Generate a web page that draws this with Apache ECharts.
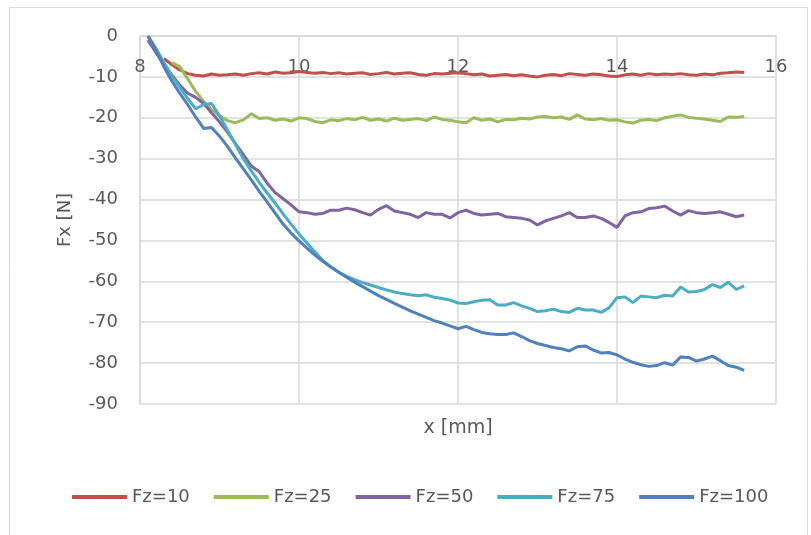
<!DOCTYPE html>
<html>
<head>
<meta charset="utf-8">
<script src="https://cdn.jsdelivr.net/npm/echarts@6/dist/echarts.min.js"></script>
<style>
  html, body { margin: 0; padding: 0; background: #fff; }
  #chart { width: 811px; height: 535px; }
</style>
</head>
<body>
<div id="chart"></div>
<script>
// x positions [mm], one every 0.1 mm
const xPos = [
  8.1, 8.2, 8.3, 8.4, 8.5, 8.6, 8.7, 8.8, 8.9,
  9.0, 9.1, 9.2, 9.3, 9.4, 9.5, 9.6, 9.7, 9.8, 9.9,
  10.0, 10.1, 10.2, 10.3, 10.4, 10.5, 10.6, 10.7, 10.8, 10.9,
  11.0, 11.1, 11.2, 11.3, 11.4, 11.5, 11.6, 11.7, 11.8, 11.9,
  12.0, 12.1, 12.2, 12.3, 12.4, 12.5, 12.6, 12.7, 12.8, 12.9,
  13.0, 13.1, 13.2, 13.3, 13.4, 13.5, 13.6, 13.7, 13.8, 13.9,
  14.0, 14.1, 14.2, 14.3, 14.4, 14.5, 14.6, 14.7, 14.8, 14.9,
  15.0, 15.1, 15.2, 15.3, 15.4, 15.5, 15.6
]

// Fx [N] for each Fz
const fz10 = [
  null, null, -5.5, -7, -8.3, -9.2, -9.6, -9.8, -9.3,
  -9.6, -9.5, -9.3, -9.6, -9.2, -9.0, -9.3, -8.8, -9.1, -9.0,
  -8.7, -8.9, -9.1, -8.9, -9.2, -9.0, -9.3, -9.1, -9.0, -9.4,
  -9.2, -8.9, -9.3, -9.1, -9.0, -9.4, -9.6, -9.2, -9.3, -9.1,
  -9.0, -9.2, -9.5, -9.3, -9.8, -9.6, -9.4, -9.7, -9.5, -9.8,
  -10.0, -9.6, -9.4, -9.7, -9.2, -9.4, -9.6, -9.3, -9.5, -9.8,
  -9.9, -9.5, -9.3, -9.6, -9.2, -9.5, -9.3, -9.4, -9.2, -9.5,
  -9.6, -9.3, -9.5, -9.1, -9.0, -8.8, -8.9
]
const fz25 = [
  null, null, null, -6.5, -7.5, -10.5, -13.5, -16, -18,
  -19.5, -20.7, -21.2, -20.5, -19.0, -20.2, -20.0, -20.6, -20.3, -20.8,
  -20.0, -20.2, -20.9, -21.2, -20.5, -20.7, -20.2, -20.5, -19.9, -20.6,
  -20.3, -20.8, -20.1, -20.6, -20.4, -20.2, -20.7, -19.8, -20.4, -20.6,
  -21.0, -21.2, -20.0, -20.6, -20.3, -21.0, -20.4, -20.5, -20.1, -20.3,
  -19.8, -19.7, -20.0, -19.8, -20.4, -19.3, -20.3, -20.5, -20.2, -20.6,
  -20.5, -21.0, -21.3, -20.6, -20.4, -20.7, -20.0, -19.6, -19.3, -19.9,
  -20.1, -20.3, -20.6, -20.9, -19.8, -19.9, -19.7
]
const fz50 = [
  -1, -4, -7, -9.5, -12, -14, -15, -16.5, -18.8,
  -21, -23.5, -26.3, -29, -31.8, -33.2, -36, -38.3, -39.8, -41.3,
  -43, -43.2, -43.6, -43.4, -42.6, -42.6, -42.1, -42.5, -43.2, -43.8,
  -42.4, -41.5, -42.8, -43.2, -43.6, -44.4, -43.2, -43.6, -43.6, -44.5,
  -43.2, -42.6, -43.4, -43.8, -43.6, -43.4, -44.2, -44.4, -44.6, -45.0,
  -46.2, -45.2, -44.6, -44.0, -43.2, -44.4, -44.4, -44.0, -44.6, -45.6,
  -46.8, -44.0, -43.2, -43.0, -42.2, -42.0, -41.6, -42.8, -43.8, -42.7,
  -43.2, -43.4, -43.2, -43.0, -43.6, -44.2, -43.8
]
const fz75 = [
  0, -3, -6.5, -9.8, -12.5, -15.3, -17.8, -16.8, -16.5,
  -19.5, -23, -26.5, -30, -33, -35.8, -38.4, -40.9, -43.5, -46,
  -48.4, -50.6, -52.8, -54.9, -56.5, -57.8, -58.8, -59.6, -60.3, -60.9,
  -61.5, -62.1, -62.6, -63.0, -63.3, -63.5, -63.3, -63.9, -64.2, -64.6,
  -65.3, -65.4, -65.0, -64.6, -64.5, -65.8, -65.8, -65.2, -66.0, -66.6,
  -67.4, -67.2, -66.8, -67.4, -67.6, -66.6, -67.0, -67.0, -67.6, -66.5,
  -64.0, -63.8, -65.2, -63.6, -63.8, -64.0, -63.4, -63.6, -61.4, -62.6,
  -62.5, -62.0, -60.8, -61.5, -60.2, -62.0, -61.1
]
const fz100 = [
  0, -3.5, -7.5, -11, -14, -16.8, -19.8, -22.6, -22.4,
  -24.5, -27, -29.8, -32.5, -35.2, -38, -40.6, -43.3, -46, -48.2,
  -50.1, -51.9, -53.6, -55.1, -56.5, -57.8, -59.0, -60.2, -61.3, -62.4,
  -63.5, -64.4, -65.4, -66.3, -67.2, -68.0, -68.8, -69.6, -70.2, -70.9,
  -71.6, -71.0, -71.8, -72.5, -72.8, -73.0, -73.0, -72.6, -73.5, -74.5,
  -75.2, -75.7, -76.2, -76.5, -77.0, -76.0, -75.8, -76.8, -77.5, -77.4,
  -78.0, -79.0, -79.8, -80.4, -80.8, -80.6, -79.9, -80.5, -78.5, -78.6,
  -79.5, -79.0, -78.3, -79.4, -80.6, -81.0, -81.8
]

const seriesNames = ['Fz=10', 'Fz=25', 'Fz=50', 'Fz=75', 'Fz=100']
const seriesValues = [fz10, fz25, fz50, fz75, fz100]
const colors = ['#C0504D', '#9BBB59', '#8064A2', '#4BACC6', '#4F81BD']

const textColor = '#595959'
const gridColor = '#d9d9d9'
const fontFamily = '"DejaVu Sans", "Liberation Sans", sans-serif'

const chart = echarts.init(document.getElementById('chart'))
chart.setOption({
  animation: false,
  color: colors,
  textStyle: { fontFamily: fontFamily, color: textColor },
  grid: { left: 140, top: 36, right: 35, bottom: 131 },
  legend: {
    data: seriesNames,
    left: 72,
    top: 488,
    padding: 0,
    icon: 'rect',
    itemWidth: 55,
    itemHeight: 4,
    itemGap: 24,
    textStyle: { fontSize: 18, color: textColor, fontFamily: fontFamily }
  },
  xAxis: {
    type: 'value',
    position: 'top',
    min: 8,
    max: 16,
    interval: 2,
    axisLine: { show: true, onZero: false, lineStyle: { color: gridColor, width: 1.5 } },
    axisTick: { show: false },
    axisLabel: { inside: true, margin: 22, fontSize: 18, color: textColor },
    splitLine: { show: true, lineStyle: { color: gridColor, width: 1.5 } }
  },
  yAxis: {
    type: 'value',
    min: -90,
    max: 0,
    interval: 10,
    name: 'Fx [N]',
    nameLocation: 'middle',
    nameGap: 66,
    nameTextStyle: { fontSize: 18, color: textColor },
    axisLine: { show: true, lineStyle: { color: gridColor, width: 1.5 } },
    axisTick: { show: false },
    axisLabel: { margin: 22, fontSize: 18, color: textColor },
    splitLine: { show: true, lineStyle: { color: gridColor, width: 1.5 } }
  },
  graphic: [
    {
      type: 'rect',
      shape: { x: 9.5, y: 7.5, width: 798, height: 540 },
      style: { fill: 'none', stroke: gridColor, lineWidth: 1 },
      silent: true
    },
    {
      type: 'text',
      x: 458,
      y: 428,
      style: {
        text: 'x [mm]',
        fontSize: 19,
        fontFamily: fontFamily,
        fill: textColor,
        align: 'center',
        verticalAlign: 'middle'
      }
    }
  ],
  series: seriesNames.map((name, k) => ({
    name: name,
    type: 'line',
    showSymbol: false,
    connectNulls: false,
    lineStyle: { width: 3 },
    data: xPos.map((x, i) => [x, seriesValues[k][i]])
  }))
})
</script>
</body>
</html>
